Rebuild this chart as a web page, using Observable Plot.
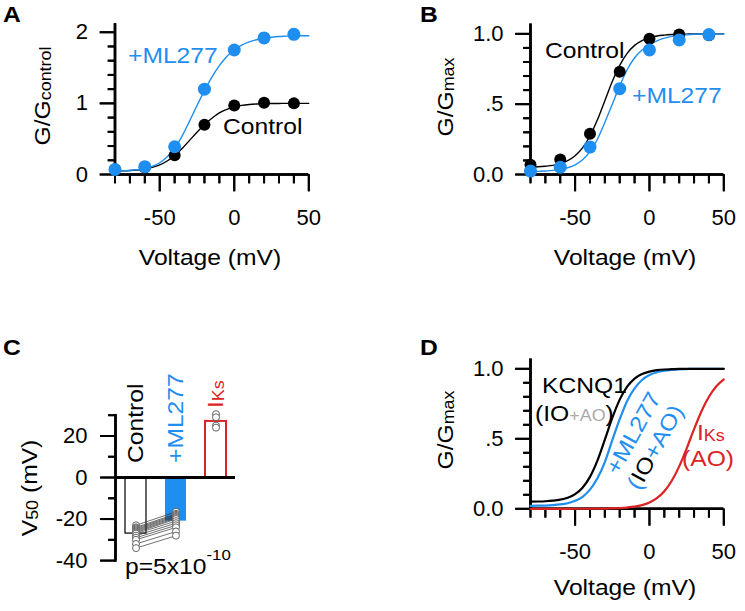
<!DOCTYPE html>
<html><head><meta charset="utf-8">
<script src="https://cdn.jsdelivr.net/npm/d3@7"></script>
<script src="https://cdn.jsdelivr.net/npm/@observablehq/plot@0.6"></script>
<style>
body{margin:0;background:#fff;}
#fig{position:relative;width:745px;height:611px;overflow:hidden;background:#fff;color:#000;}
#fig svg{position:absolute;}
</style></head><body><div id="fig"></div>
<script>
const FONT = "'Liberation Sans', Arial, Helvetica, sans-serif";
const BLUE = "#1e8ef0";
const RED = "#dc2323";
const GRAY = "#aaaaaa";
const STRETCH = 1.12;

// ---- Panel A: G/Gcontrol ----
const voltPts = [-80, -60, -40, -20, 0, 20, 40];
const ctrlA = [0.07, 0.10, 0.27, 0.70, 0.97, 1.01, 1.00];
const mlA = [0.07, 0.11, 0.39, 1.20, 1.75, 1.92, 1.97];
const mlAErr = [0, 0, 0.02, 0.03, 0.06, 0.07, 0.07];
const fitVolt = [-80,-75,-70,-65,-60,-55,-50,-45,-40,-35,-30,-25,-20,-15,-10,-5,0,5,10,15,20,25,30,35,40,45,50];
const ctrlFitA = [0.05,0.052,0.056,0.064,0.078,0.10,0.135,0.19,0.265,0.365,0.48,0.595,0.70,0.79,0.865,0.915,0.95,0.972,0.985,0.992,0.996,0.998,0.999,1,1,1,1];
const mlFitA = [0.05,0.052,0.057,0.066,0.083,0.115,0.165,0.25,0.37,0.54,0.75,0.97,1.18,1.37,1.53,1.66,1.75,1.82,1.865,1.895,1.915,1.93,1.94,1.945,1.95,1.95,1.95];

// ---- Panel B: G/Gmax ----
const ctrlB = [0.07, 0.107, 0.29, 0.73, 0.965, 0.995, 0.99];
const mlB = [0.024, 0.052, 0.195, 0.61, 0.886, 0.957, 0.995];
const mlBErr = [0, 0, 0, 0, 0.02, 0.025, 0.03];
const ctrlFitB = [0.053,0.055,0.059,0.065,0.077,0.098,0.133,0.189,0.274,0.389,0.525,0.661,0.776,0.861,0.918,0.952,0.973,0.985,0.991,0.995,0.997,0.998,0.999,0.999,1,1,1];
const mlFitB = [0.021,0.022,0.025,0.029,0.036,0.048,0.069,0.105,0.163,0.251,0.37,0.5,0.63,0.745,0.83,0.885,0.92,0.95,0.97,0.982,0.99,0.994,0.997,0.999,1,1,1];

// ---- Panel C: V50 ----
const catsC = ["Control", "+ML277", "IKs"];
const meansC = [-27, -21, 27];
const ctrlCells = [-23, -24, -24.5, -25, -25.5, -26, -26.5, -27, -28, -29, -30, -32, -34];
const mlCells = [-16.5, -17.5, -18, -18.5, -19, -19.5, -20, -21, -22, -23, -24, -26, -28];
const iksCells = [30.5, 29, 25, 24];
const iksSem = 1.6;

// ---- Panel D: model curves ----
const kcnqD = [0.051,0.052,0.054,0.058,0.065,0.079,0.105,0.151,0.228,0.344,0.494,0.649,0.78,0.872,0.93,0.962,0.98,0.99,0.995,0.997,0.999,1,1,1,1,1,1];
const mlD = [0.021,0.022,0.023,0.026,0.031,0.04,0.057,0.086,0.137,0.218,0.334,0.49,0.64,0.77,0.86,0.92,0.955,0.975,0.986,0.992,0.996,0.998,1,1,1,1,1];
const iksD = [0,0,0,0,0,0,0.0002,0.0004,0.0008,0.001,0.0017,0.003,0.005,0.009,0.015,0.026,0.045,0.076,0.125,0.2,0.303,0.43,0.569,0.697,0.8,0.875,0.924];

// ---- ticks ----
const xMajor = [-50, 0, 50];
const xMinor = [-80, -70, -60, -40, -30, -20, -10, 10, 20, 30, 40];
const yMajorA = [0, 1, 2];
const yMinorA = [0.2, 0.4, 0.6, 0.8, 1.2, 1.4, 1.6, 1.8];
const yMajorB = [0, 0.5, 1];
const yLabelsB = ["0.0", ".5", "1.0"];
const yMinorB = [0.1, 0.2, 0.3, 0.4, 0.6, 0.7, 0.8, 0.9];
const yMajorC = [20, 0, -20, -40];
const yMinorC = [30, 10, -10, -30];

const fig = document.getElementById("fig");
const baseStyle = {fontFamily: FONT, fontSize: "22px", color: "black", background: "transparent", overflow: "visible"};

// ---- annotation layer (titles, labels, panel letters), placed beneath the plots ----
const ov = d3.select(fig).append("svg")
  .attr("width", 745).attr("height", 611)
  .style("left", "0px").style("top", "0px")
  .attr("font-family", FONT);

function label(x, y, parts, opt = {}) {
  const {rotate = 0, anchor = "start", dy = 0, weight = null} = opt;
  const t = ov.append("text")
    .attr("transform", `translate(${x},${y}) rotate(${rotate})`)
    .attr("text-anchor", anchor);
  if (weight) t.attr("font-weight", weight);
  let prev = 0, first = true;
  for (const p of parts) {
    const [s, o] = Array.isArray(p) ? p : [p, {}];
    const shift = o.shift || 0;
    const d = (first ? dy : 0) + shift - prev;
    t.append("tspan").text(s)
      .attr("font-size", o.size || 22)
      .attr("fill", o.fill || "black")
      .attr("dy", d);
    prev = shift; first = false;
  }
  return t;
}

function place(el, left, top) {
  el.style.position = "absolute";
  el.style.left = left + "px";
  el.style.top = top + "px";
  fig.appendChild(el);
}

const K = {stroke: "black"};

function xyAxes(yMajor, yMinor, yFmt, yTop) {
  return [
    Plot.ruleX([-80], {y1: 0, y2: yTop, stroke: "black", strokeWidth: 2.5}),
    Plot.ruleY([0], {x1: -80, x2: 50, stroke: "black", strokeWidth: 2.5}),
    Plot.axisY({ticks: yMajor, tickSize: 15, tickPadding: 12, strokeWidth: 2, tickFormat: yFmt, label: null, fontSize: 22, ...K}),
    Plot.axisY({ticks: yMinor, tickSize: 7, strokeWidth: 2, tickFormat: () => "", label: null, ...K}),
    Plot.axisX({ticks: xMajor, tickSize: 17, tickPadding: 18, strokeWidth: 2, tickFormat: d => String(d), label: null, fontSize: 22, ...K}),
    Plot.axisX({ticks: xMinor, tickSize: 9, strokeWidth: 2, tickFormat: () => "", label: null, ...K})
  ];
}

function errMarks(pts, key, errKey, color) {
  const e = pts.filter(d => d[errKey] > 0);
  return [
    Plot.ruleX(e, {x: "v", y1: d => d[key] - d[errKey], y2: d => d[key] + d[errKey], stroke: color, strokeWidth: 1.2}),
    Plot.ruleY(e, {y: d => d[key] + d[errKey], x1: d => d.v - 2, x2: d => d.v + 2, stroke: color, strokeWidth: 1.2}),
    Plot.ruleY(e, {y: d => d[key] - d[errKey], x1: d => d.v - 2, x2: d => d.v + 2, stroke: color, strokeWidth: 1.2})
  ];
}

// Panel A
const ptsA = voltPts.map((v, i) => ({v, c: ctrlA[i], m: mlA[i], e: mlAErr[i]}));
const fitA = fitVolt.map((v, i) => ({v, c: ctrlFitA[i], m: mlFitA[i]}));
const plotA = Plot.plot({
  width: 370, height: 300,
  marginLeft: 114.5, marginRight: 61.7, marginTop: 23.2, marginBottom: 126,
  style: baseStyle,
  x: {domain: [-80, 50]},
  y: {domain: [0, 2.12]},
  marks: [
    ...xyAxes(yMajorA, yMinorA, d => String(d), 2.12),
    Plot.line(fitA, {x: "v", y: "c", stroke: "black", strokeWidth: 1.4, curve: "monotone-x"}),
    Plot.line(fitA, {x: "v", y: "m", stroke: BLUE, strokeWidth: 1.4, curve: "monotone-x"}),
    Plot.dot(ptsA, {x: "v", y: "c", r: 6, fill: "black"}),
    ...errMarks(ptsA, "m", "e", BLUE),
    Plot.dot(ptsA, {x: "v", y: "m", r: 6.5, fill: BLUE})
  ]
});
place(plotA, 0, 0);

// Panel B
const ptsB = voltPts.map((v, i) => ({v, c: ctrlB[i], m: mlB[i], e: mlBErr[i]}));
const fitB = fitVolt.map((v, i) => ({v, c: ctrlFitB[i], m: mlFitB[i]}));
const fmtB = d => yLabelsB[yMajorB.indexOf(d)];
const plotB = Plot.plot({
  width: 375, height: 300,
  marginLeft: 160, marginRight: 21.7, marginTop: 23.5, marginBottom: 126,
  style: baseStyle,
  x: {domain: [-80, 50]},
  y: {domain: [0, 1.07]},
  marks: [
    ...xyAxes(yMajorB, yMinorB, fmtB, 1.07),
    Plot.line(fitB, {x: "v", y: "c", stroke: "black", strokeWidth: 1.4, curve: "monotone-x"}),
    Plot.line(fitB, {x: "v", y: "m", stroke: BLUE, strokeWidth: 1.4, curve: "monotone-x"}),
    Plot.dot(ptsB, {x: "v", y: "c", r: 6, fill: "black"}),
    ...errMarks(ptsB, "m", "e", BLUE),
    Plot.dot(ptsB, {x: "v", y: "m", r: 6.5, fill: BLUE})
  ]
});
place(plotB, 370, 0);

// Panel C
const barsC = catsC.map((c, i) => ({cat: c, mean: meansC[i]}));
const pairsC = ctrlCells.map((c, i) => ({c, m: mlCells[i]}));
const plotC = Plot.plot({
  width: 370, height: 281,
  marginLeft: 115, marginRight: 135, marginTop: 84.7, marginBottom: 50.9,
  style: baseStyle,
  x: {domain: catsC, type: "band", paddingInner: 0.475, paddingOuter: 0.2375, axis: null},
  y: {domain: [-40, 30]},
  marks: [
    Plot.axisY({ticks: yMajorC, tickSize: 15, tickPadding: 13, strokeWidth: 2, tickFormat: d => String(d), label: null, fontSize: 22, ...K}),
    Plot.axisY({ticks: yMinorC, tickSize: 7, strokeWidth: 2, tickFormat: () => "", label: null, ...K}),
    Plot.barY(barsC.filter(d => d.cat === "Control"), {x: "cat", y: "mean", fill: "white", stroke: "black", strokeWidth: 1.2}),
    Plot.barY(barsC.filter(d => d.cat === "+ML277"), {x: "cat", y: "mean", fill: BLUE}),
    Plot.barY(barsC.filter(d => d.cat === "IKs"), {x: "cat", y: "mean", fill: "white", stroke: RED, strokeWidth: 2}),
    Plot.ruleY([0], {stroke: "black", strokeWidth: 3}),
    Plot.frame({anchor: "left", stroke: "black", strokeWidth: 2.5}),
    Plot.link(pairsC, {x1: () => "Control", x2: () => "+ML277", y1: "c", y2: "m", stroke: "#333", strokeWidth: 0.7}),
    Plot.dot(ctrlCells, {x: () => "Control", y: d => d, r: 3.5, fill: "white", stroke: "#555", strokeWidth: 0.9}),
    Plot.dot(mlCells, {x: () => "+ML277", y: d => d, r: 3.5, fill: "white", stroke: "#555", strokeWidth: 0.9}),
    Plot.ruleX([meansC[2]], {x: () => "IKs", y1: d => d - iksSem, y2: d => d + iksSem, stroke: RED, strokeWidth: 1.5}),
    Plot.dot(iksCells, {x: () => "IKs", y: d => d, r: 3.5, fill: "white", stroke: "#555", strokeWidth: 0.9})
  ]
});
place(plotC, 0, 330);

// Panel D
const fitD = fitVolt.map((v, i) => ({v, k: kcnqD[i], m: mlD[i], s: iksD[i]}));
const plotD = Plot.plot({
  width: 375, height: 281,
  marginLeft: 160, marginRight: 21.7, marginTop: 28.5, marginBottom: 102.7,
  style: baseStyle,
  x: {domain: [-80, 50]},
  y: {domain: [0, 1.07]},
  marks: [
    ...xyAxes(yMajorB, yMinorB, fmtB, 1.07),
    Plot.line(fitD, {x: "v", y: "s", stroke: RED, strokeWidth: 2.2, curve: "monotone-x"}),
    Plot.line(fitD, {x: "v", y: "m", stroke: BLUE, strokeWidth: 2.2, curve: "monotone-x"}),
    Plot.line(fitD, {x: "v", y: "k", stroke: "black", strokeWidth: 2.2, curve: "monotone-x"})
  ]
});
place(plotD, 370, 330);

// panel letters
label(3, 22, [["A", {size: 22}]], {weight: "bold"});
label(420, 22, [["B", {size: 22}]], {weight: "bold"});
label(3, 355, [["C", {size: 22}]], {weight: "bold"});
label(420, 355, [["D", {size: 22}]], {weight: "bold"});

// A
label(50, 96, ["G/G", ["control", {size: 16, shift: 1}]], {rotate: -90, anchor: "middle"});
label(210, 265, ["Voltage (mV)"], {anchor: "middle"});
label(128, 63, [["+ML277", {fill: BLUE}]]);
label(223, 134, ["Control"]);

// B
label(453, 97, ["G/G", ["max", {size: 16, shift: 1}]], {rotate: -90, anchor: "middle"});
label(625, 265, ["Voltage (mV)"], {anchor: "middle"});
label(545, 58, ["Control"]);
label(632, 103, [["+ML277", {fill: BLUE}]]);

// C
label(37, 488, ["V", ["50", {size: 16, shift: 1}], [" (mV)", {shift: 0}]], {rotate: -90, anchor: "middle"});
label(135, 463, ["Control"], {rotate: -90, dy: 7.7});
label(175, 463, [["+ML277", {fill: BLUE}]], {rotate: -90, dy: 7.7});
label(215, 408, [["I", {fill: RED}], ["Ks", {fill: RED, size: 16, shift: 1}]], {rotate: -90, dy: 7.7});
label(125, 574, ["p=5x10", ["-10", {size: 15, shift: -14}]]);

// D
label(453, 430, ["G/G", ["max", {size: 16, shift: 1}]], {rotate: -90, anchor: "middle"});
label(625, 595, ["Voltage (mV)"], {anchor: "middle"});
label(542, 393, ["KCNQ1"]);
label(535, 421, ["(IO", ["+AO", {size: 16, fill: GRAY}], ")"]);
label(633, 433, [["+ML277", {fill: BLUE}]], {rotate: -61, anchor: "middle", dy: 7.7});
label(655, 447, [["(", {fill: BLUE}], "IO", ["+AO)", {fill: BLUE}]], {rotate: -61, anchor: "middle", dy: 7.7});
label(697, 440, [["I", {fill: RED}], ["Ks", {fill: RED, size: 16, shift: 1}]]);
label(682, 466, [["(AO)", {fill: RED}]]);

// horizontal stretch of the annotation lettering to match the reference's wide type
ov.selectAll("text").each(function () {
  const len = this.getComputedTextLength();
  if (len > 0) {
    this.setAttribute("textLength", (len * STRETCH).toFixed(1));
    this.setAttribute("lengthAdjust", "spacingAndGlyphs");
  }
});

// axis lines and ticks traced again from each plot's own scales, in a layer beneath the plots
try {
  const ax = d3.select(fig).insert("svg", ":first-child")
    .attr("width", 745).attr("height", 611)
    .style("left", "0px").style("top", "0px")
    .attr("stroke", "black").attr("fill", "none");
  const seg = (x1, y1, x2, y2, w) => ax.append("line")
    .attr("x1", x1).attr("y1", y1).attr("x2", x2).attr("y2", y2).attr("stroke-width", w);
  function xyFrame(plot, ox, oy, yTop, yMajor, yMinor) {
    const sx = plot.scale("x"), sy = plot.scale("y");
    const X = v => ox + sx.apply(v), Y = v => oy + sy.apply(v);
    const x0 = X(-80) + 0.5, y0 = Y(0) + 0.5;
    seg(x0, y0, x0, Y(yTop), 2.5);
    seg(x0, y0, X(50), y0, 2.5);
    yMajor.forEach(t => seg(x0 - 15, Y(t) + 0.5, x0, Y(t) + 0.5, 2));
    yMinor.forEach(t => seg(x0 - 7, Y(t) + 0.5, x0, Y(t) + 0.5, 2));
    xMajor.forEach(t => seg(X(t) + 0.5, y0, X(t) + 0.5, y0 + 17, 2));
    xMinor.forEach(t => seg(X(t) + 0.5, y0, X(t) + 0.5, y0 + 9, 2));
  }
  xyFrame(plotA, 0, 0, 2.12, yMajorA, yMinorA);
  xyFrame(plotB, 370, 0, 1.07, yMajorB, yMinorB);
  xyFrame(plotD, 370, 330, 1.07, yMajorB, yMinorB);
  const sxC = plotC.scale("x"), syC = plotC.scale("y");
  const xl = sxC.range[0] + 0.5;
  const YC = v => 330 + syC.apply(v);
  seg(xl, YC(-40), xl, YC(30), 2.5);
  yMajorC.forEach(t => seg(xl - 15, YC(t) + 0.5, xl, YC(t) + 0.5, 2));
  yMinorC.forEach(t => seg(xl - 7, YC(t) + 0.5, xl, YC(t) + 0.5, 2));
} catch (e) {}
</script>
</body></html>
